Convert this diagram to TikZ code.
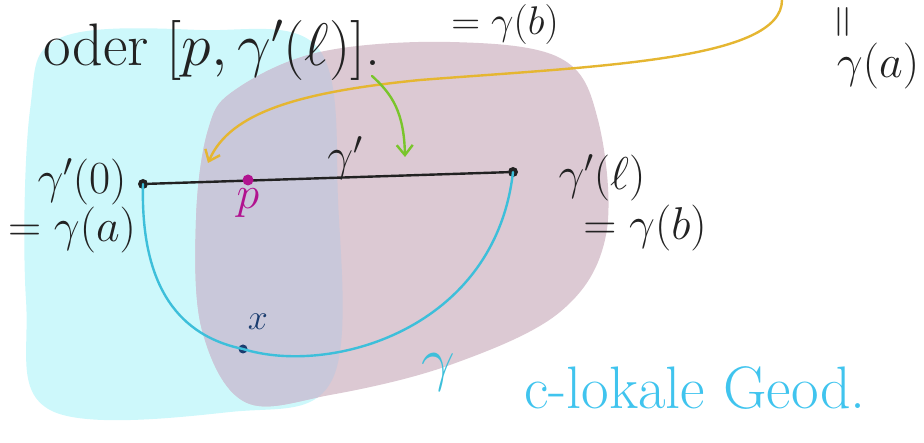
\RequirePackage{fix-cm}
\documentclass[tikz,border=0pt]{standalone}
\usepackage{xcolor}
\usepackage{tikz}
\usetikzlibrary{arrows.meta, positioning}
\definecolor{skycyan}{HTML}{CDF8FB}
\definecolor{dustpink}{HTML}{DCC9D3}
\definecolor{overlapgray}{HTML}{C9C8DA}
\definecolor{geodblue}{HTML}{3DBFDA}
\definecolor{labelblue}{HTML}{40C4EE}
\definecolor{penmagenta}{HTML}{B1138F}
\definecolor{navypen}{HTML}{1B3D6F}
\definecolor{goldpen}{HTML}{E5B631}
\definecolor{limepen}{HTML}{79C52B}
\definecolor{inkblack}{HTML}{222222}
\tikzset{
  hand/.style={font=\fontsize{46}{54}\selectfont, inner sep=1pt, text=inkblack},
  dot/.style={circle, fill, inner sep=0pt, minimum size=10pt},
  pen/.style={line width=2.4pt, line cap=round},
  hook/.style={pen, -{Straight Barb[length=10pt, width=16pt]}},
}
\begin{document}
\begin{tikzpicture}[x=1pt, y=-1pt]
  \useasboundingbox (0,0) rectangle (924,443);
  \clip (0,0) rectangle (924,443);

  % the two charts
  \def\cyanblob{plot[smooth cycle, tension=0.6] coordinates {(60,38) (200,30) (318,48) (338,200) (332,380) (230,412) (50,410) (26,300) (30,110)}}
  \def\pinkblob{plot[smooth cycle, tension=0.6] coordinates {(235,90) (320,52) (450,42) (560,58) (598,120) (606,235) (560,312) (450,365) (330,395) (245,402) (202,330) (196,220) (208,130)}}
  \fill[skycyan] \cyanblob;
  \fill[dustpink] \pinkblob;
  \begin{scope}
    \clip \cyanblob;
    \fill[overlapgray] \pinkblob;
  \end{scope}

  % geodesic gamma' and the broken curve gamma
  \node[dot, inkblack] (g0) at (143,184) {};
  \node[dot, inkblack] (gl) at (513,172) {};
  \node[dot, navypen, minimum size=9pt] (x) at (243,349) {};
  \draw[pen, geodblue] (g0.center) .. controls (140,300) and (190,338) .. (x.center)
    .. controls (330,376) and (495,330) .. (gl.center);
  \draw[pen, inkblack] (g0) -- (gl);
  \node[dot, penmagenta, minimum size=11pt] (p) at (248,180) {};

  \node[hand] (gprime) at (345,158) {$\gamma'$};
  \node[hand, text=penmagenta, below=2pt of p] (plabel) {$p$};
  \node[hand, text=navypen, font=\fontsize{36}{40}\selectfont] (xlabel) at (258,322) {$x$};

  \node[hand] (g0label) at (82,182) {$\gamma'(0)$};
  \node[hand] (galabel) at (72,230) {$=\gamma(a)$};
  \node[hand] (gllabel) at (602,178) {$\gamma'(\ell)$};
  \node[hand] (gblabel) at (645,228) {$=\gamma(b)$};

  \node[hand, text=geodblue, font=\fontsize{60}{64}\selectfont] (gamma) at (438,372) {$\gamma$};
  \node[hand, text=labelblue, font=\fontsize{60}{66}\selectfont] (geod) at (695,388) {c-lokale Geod.};

  % notes on top
  \node[hand, font=\fontsize{60}{66}\selectfont] (oder) at (212,50) {oder $[p,\gamma'(\ell)]$.};
  \node[hand, font=\fontsize{40}{44}\selectfont] (topgb) at (505,25) {$=\gamma(b)$};
  \node[hand, rotate=90, font=\fontsize{46}{50}\selectfont] (vereq) at (846,22) {$=$};
  \node[hand] (toga) at (878,66) {$\gamma(a)$};

  \coordinate (ystart) at (782,0);
  \coordinate (ytip) at (208,163);
  \coordinate (gstart) at (372,76);
  \coordinate (gtip) at (405,157);
  \draw[hook, goldpen] (ystart) .. controls (782,60) and (600,66) .. (420,80)
    .. controls (300,92) and (230,112) .. (ytip);
  \draw[hook, limepen] (gstart) .. controls (392,94) and (404,112) .. (gtip);
\end{tikzpicture}
\end{document}
